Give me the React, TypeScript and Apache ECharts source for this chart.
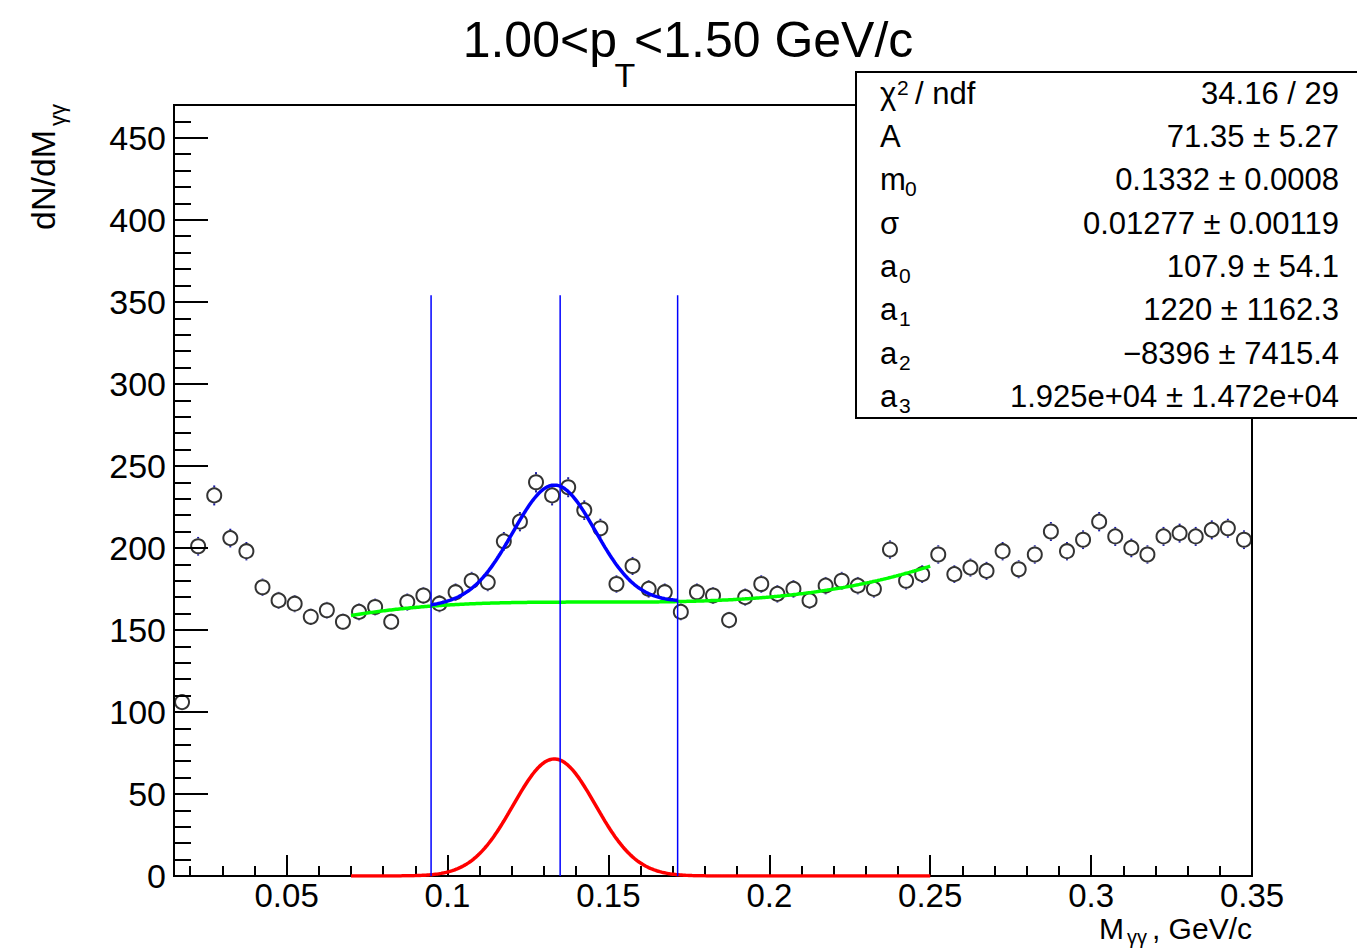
import React, { useEffect, useRef } from "react";
import * as echarts from "echarts";

// ---- histogram data (bin centres, contents, errors) ----
const binCenters: number[] = [
  0.0175, 0.0225, 0.0275, 0.0325, 0.0375, 0.0425, 0.0475, 0.0525, 0.0575, 0.0625,
  0.0675, 0.0725, 0.0775, 0.0825, 0.0875, 0.0925, 0.0975, 0.1025, 0.1075, 0.1125,
  0.1175, 0.1225, 0.1275, 0.1325, 0.1375, 0.1425, 0.1475, 0.1525, 0.1575, 0.1625,
  0.1675, 0.1725, 0.1775, 0.1825, 0.1875, 0.1925, 0.1975, 0.2025, 0.2075, 0.2125,
  0.2175, 0.2225, 0.2275, 0.2325, 0.2375, 0.2425, 0.2475, 0.2525, 0.2575, 0.2625,
  0.2675, 0.2725, 0.2775, 0.2825, 0.2875, 0.2925, 0.2975, 0.3025, 0.3075, 0.3125,
  0.3175, 0.3225, 0.3275, 0.3325, 0.3375, 0.3425, 0.3475,
];
const counts: number[] = [
  106, 201, 232, 206, 198, 176, 168, 166, 158, 162,
  155, 161, 164, 155, 167, 171, 166, 173, 180, 179,
  204, 216, 240, 232, 237, 223, 212, 178, 189, 175,
  173, 161, 173, 171, 156, 170, 178, 172, 175, 168,
  177, 180, 177, 175, 199, 180, 184, 196, 184, 188,
  186, 198, 187, 196, 210, 198, 205, 216, 207, 200,
  196, 207, 209, 207, 211, 212, 205,
];
const errors: number[] = [
  4.1, 5.7, 6.1, 5.7, 5.6, 5.3, 5.2, 5.2, 5.0, 5.1,
  5.0, 5.1, 5.1, 5.0, 5.2, 5.2, 5.2, 5.3, 5.4, 5.4,
  5.7, 5.9, 6.2, 6.1, 6.1, 6.0, 5.8, 5.3, 5.5, 5.3,
  5.3, 5.1, 5.3, 5.2, 5.0, 5.2, 5.3, 5.3, 5.3, 5.2,
  5.3, 5.4, 5.3, 5.3, 5.6, 5.4, 5.4, 5.6, 5.4, 5.5,
  5.5, 5.6, 5.5, 5.6, 5.8, 5.6, 5.7, 5.9, 5.8, 5.7,
  5.6, 5.8, 5.8, 5.8, 5.8, 5.8, 5.7,
];

// ---- fit parameters (as printed in the stats box) ----
const gaussParams: number[] = [71.35, 0.1332, 0.01277]; // A, m0, sigma
const polParams: number[] = [107.9, 1220, -8396, 19250]; // a0..a3
const fitRange: number[] = [0.07, 0.25];
const curveStep = 0.0005;

// vertical marker lines (m0-3σ, PDG mass, m0+3σ) and their height
const vlineXs: number[] = [0.09489, 0.135, 0.17151];
const vlineTop = 354;

// ---- axes ----
const xMin = 0.015;
const xMax = 0.35;
const yMin = 0;
const yMax = 470;
const xMajorTicks: number[] = [0.05, 0.1, 0.15, 0.2, 0.25, 0.3, 0.35];
const xMajorLabels: string[] = ["0.05", "0.1", "0.15", "0.2", "0.25", "0.3", "0.35"];
const xMinorTicks: number[] = [
  0.02, 0.03, 0.04, 0.06, 0.07, 0.08, 0.09, 0.11, 0.12, 0.13, 0.14, 0.16, 0.17, 0.18,
  0.19, 0.21, 0.22, 0.23, 0.24, 0.26, 0.27, 0.28, 0.29, 0.31, 0.32, 0.33, 0.34,
];
const yMajorTicks: number[] = [0, 50, 100, 150, 200, 250, 300, 350, 400, 450];
const yMinorTicks: number[] = [
  10, 20, 30, 40, 60, 70, 80, 90, 110, 120, 130, 140, 160, 170, 180, 190, 210, 220, 230, 240,
  260, 270, 280, 290, 310, 320, 330, 340, 360, 370, 380, 390, 410, 420, 430, 440, 460,
];

// ---- stats box ----
const statsValues: string[] = [
  "34.16 / 29",
  "71.35 \u00b1 5.27",
  "0.1332 \u00b1 0.0008",
  "0.01277 \u00b1 0.00119",
  "107.9 \u00b1 54.1",
  "1220 \u00b1 1162.3",
  "\u22128396 \u00b1 7415.4",
  "1.925e+04 \u00b1 1.472e+04",
];
const statsMain: string[] = ["\u03c7", "A", "m", "\u03c3", "a", "a", "a", "a"];
const statsSub: string[] = ["", "", "0", "", "0", "1", "2", "3"];

const FONT = "'Liberation Sans', Arial, Helvetica, sans-serif";

function gauss(x: number): number {
  const [A, m, s] = gaussParams;
  const z = (x - m) / s;
  return A * Math.exp(-0.5 * z * z);
}
function pol3(x: number): number {
  const [a0, a1, a2, a3] = polParams;
  return a0 + a1 * x + a2 * x * x + a3 * x * x * x;
}
function sampleCurve(lo: number, hi: number, f: (x: number) => number): number[][] {
  const out: number[][] = [];
  const n = Math.round((hi - lo) / curveStep);
  for (let i = 0; i <= n; i++) {
    const x = lo + ((hi - lo) * i) / n;
    out.push([x, f(x)]);
  }
  return out;
}

export default function App() {
  const ref = useRef<HTMLDivElement>(null);
  useEffect(() => {
    if (!ref.current) return;
    const chart = echarts.init(ref.current, null, { renderer: "svg" });

    const [, m0, sig] = gaussParams;
    const redData = sampleCurve(fitRange[0], fitRange[1], gauss);
    const greenData = sampleCurve(fitRange[0], fitRange[1], pol3);
    const blueData = sampleCurve(m0 - 3 * sig, m0 + 3 * sig, (x) => gauss(x) + pol3(x));

    const pointData = binCenters.map((x, i) => [x, counts[i], errors[i]]);
    const errColor = "#1a1aa6";
    const markerR = 8;

    const axisLineStyle = { color: "#000", width: 2 };
    const txt = (x: number, y: number, text: string, size: number, align: string, z = 100, lh?: number) => ({
      type: "text",
      x,
      y,
      z,
      style: {
        text,
        font: `${size}px ${FONT}`,
        fill: "#000",
        align,
        verticalAlign: "middle",
        ...(lh ? { lineHeight: lh } : {}),
      },
    });

    const graphics: any[] = [];
    // title
    graphics.push(
      txt(617, 40, "1.00<p", 50, "right"),
      txt(625, 75, "T", 34, "center"),
      txt(634, 40, "<1.50 GeV/c", 50, "left")
    );
    // x axis title
    graphics.push(
      txt(1252, 928, ", GeV/c", 30, "right", 100, 24),
      txt(1137, 937, "\u03b3\u03b3", 20, "center", 100, 16),
      txt(1124, 928, "M", 30, "right", 100, 24)
    );
    // y axis title (rotated)
    graphics.push({
      type: "group",
      x: 43,
      y: 230,
      rotation: Math.PI / 2,
      z: 100,
      children: [
        txt(0, 0, "dN/dM", 34, "left"),
        txt(104, 14, "\u03b3\u03b3", 22, "left"),
      ],
    });
    // stats box
    graphics.push({
      type: "rect",
      z: 100,
      shape: { x: 856, y: 72, width: 520, height: 346 },
      style: { fill: "#fff", stroke: "#000", lineWidth: 2 },
    });
    const subX: Record<string, number> = { m: 905, a: 899 };
    statsValues.forEach((val, i) => {
      const cy = 93.3 + 43.33 * i;
      graphics.push(txt(1339, cy, val, 31, "right", 101));
      graphics.push(txt(880, cy, statsMain[i], 31, "left", 101));
      if (statsSub[i]) {
        graphics.push(txt(subX[statsMain[i]] || 900, cy + 9, statsSub[i], 21, "left", 101));
      }
      if (i === 0) {
        graphics.push(txt(897, cy - 6, "2", 21, "left", 101));
        graphics.push(txt(915, cy, "/ ndf", 31, "left", 101));
      }
    });

    const option: any = {
      animation: false,
      textStyle: { fontFamily: FONT },
      grid: {
        left: 174,
        top: 105,
        right: 1357 - 1252,
        bottom: 951 - 876,
        show: true,
        borderColor: "#000",
        borderWidth: 2,
        backgroundColor: "transparent",
        containLabel: false,
        outerBoundsMode: "none",
      },
      xAxis: [
        {
          type: "value",
          min: xMin,
          max: xMax,
          position: "bottom",
          axisLine: { show: true, onZero: false, lineStyle: axisLineStyle },
          splitLine: { show: false },
          axisTick: { show: true, inside: true, length: 21, customValues: xMajorTicks, lineStyle: axisLineStyle },
          axisLabel: {
            show: true,
            customValues: xMajorTicks,
            fontSize: 33,
            lineHeight: 26,
            fontFamily: FONT,
            color: "#000",
            margin: 6,
            showMinLabel: true,
            showMaxLabel: true,
            formatter: (v: number) => {
              const k = xMajorTicks.findIndex((t) => Math.abs(t - v) < 1e-9);
              return k >= 0 ? xMajorLabels[k] : "";
            },
          },
        },
        {
          type: "value",
          min: xMin,
          max: xMax,
          position: "bottom",
          axisLine: { show: false },
          splitLine: { show: false },
          axisTick: { show: true, inside: true, length: 10, customValues: xMinorTicks, lineStyle: axisLineStyle },
          axisLabel: { show: false },
        },
      ],
      yAxis: [
        {
          type: "value",
          min: yMin,
          max: yMax,
          position: "left",
          axisLine: { show: true, onZero: false, lineStyle: axisLineStyle },
          splitLine: { show: false },
          axisTick: { show: true, inside: true, length: 34, customValues: yMajorTicks, lineStyle: axisLineStyle },
          axisLabel: {
            show: true,
            customValues: yMajorTicks,
            fontSize: 34,
            fontFamily: FONT,
            color: "#000",
            margin: 8,
            showMinLabel: true,
            showMaxLabel: true,
          },
        },
        {
          type: "value",
          min: yMin,
          max: yMax,
          position: "left",
          axisLine: { show: false },
          splitLine: { show: false },
          axisTick: { show: true, inside: true, length: 17, customValues: yMinorTicks, lineStyle: axisLineStyle },
          axisLabel: { show: false },
        },
      ],
      series: [
        {
          type: "scatter",
          name: "data",
          data: pointData.map((p) => [p[0], p[1]]),
          symbol: "circle",
          symbolSize: 14,
          itemStyle: { color: "rgba(0,0,0,0)", borderColor: "#000", borderWidth: 2 },
          silent: true,
          z: 2,
        },
        {
          type: "custom",
          name: "errors",
          data: pointData,
          silent: true,
          z: 2,
          renderItem: (params: any, api: any) => {
            const x = api.value(0);
            const y = api.value(1);
            const e = api.value(2);
            const c = api.coord([x, y]);
            const t = api.coord([x, y + e]);
            const b = api.coord([x, y - e]);
            const children: any[] = [];
            if (c[1] - t[1] > markerR) {
              children.push({ type: "line", shape: { x1: c[0], y1: t[1], x2: c[0], y2: c[1] - markerR }, style: { stroke: errColor, lineWidth: 2 } });
            }
            if (b[1] - c[1] > markerR) {
              children.push({ type: "line", shape: { x1: c[0], y1: c[1] + markerR, x2: c[0], y2: b[1] }, style: { stroke: errColor, lineWidth: 2 } });
            }
            return { type: "group", children };
          },
        },
        {
          type: "line",
          name: "signal",
          data: redData,
          showSymbol: false,
          symbol: "none",
          lineStyle: { color: "#ff0000", width: 3.5 },
          silent: true,
          z: 3,
        },
        {
          type: "line",
          name: "background",
          data: greenData,
          showSymbol: false,
          symbol: "none",
          lineStyle: { color: "#00ff00", width: 3.5 },
          silent: true,
          z: 3,
        },
        {
          type: "line",
          name: "total",
          data: blueData,
          showSymbol: false,
          symbol: "none",
          lineStyle: { color: "#0000ff", width: 3.5 },
          silent: true,
          z: 3,
        },
        ...vlineXs.map((vx) => ({
          type: "line",
          name: "vline",
          data: [
            [vx, 0],
            [vx, vlineTop],
          ],
          showSymbol: false,
          symbol: "none",
          lineStyle: { color: "#0000ff", width: 1.5 },
          silent: true,
          z: 4,
        })),
      ],
      graphic: graphics,
    };

    chart.setOption(option);
    return () => chart.dispose();
  }, []);

  return (
    <div
      ref={ref}
      style={{ position: "absolute", left: 0, top: 0, width: 1357, height: 951, background: "#fff" }}
    />
  );
}
